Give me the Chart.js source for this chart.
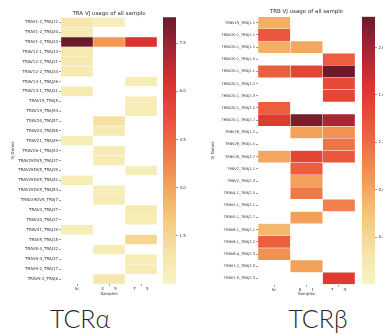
<!DOCTYPE html>
<html><head><meta charset="utf-8">
<script src="https://cdn.jsdelivr.net/npm/chart.js@4.4.1/dist/chart.umd.min.js"></script>
<style>
html,body{margin:0;padding:0;background:#fff;width:383px;height:335px;overflow:hidden;position:relative;}
.box{position:absolute;top:0;}
.big{position:absolute;font-family:"Lato","Noto Sans",sans-serif;font-weight:300;font-size:25px;line-height:25px;color:#262626;text-align:center;width:120px;}
</style></head><body>
<div class="box" style="left:0;"><canvas id="traHeat" width="160" height="300"></canvas></div>
<div class="box" style="left:160px;"><canvas id="traBar" width="30" height="300"></canvas></div>
<div class="box" style="left:190px;"><canvas id="trbHeat" width="168" height="300"></canvas></div>
<div class="box" style="left:358px;"><canvas id="trbBar" width="30" height="300"></canvas></div>
<div class="big" style="left:20px;top:306px">TCRα</div>
<div class="big" style="left:258px;top:306px">TCRβ</div>
<script>
// ---------- TRA data ----------
const traRows = ['TRAV1-2_TRAJ12','TRAV1-2_TRAJ20','TRAV1-2_TRAJ33','TRAV12-1_TRAJ13','TRAV12-2_TRAJ31','TRAV12-2_TRAJ34','TRAV13-1_TRAJ26','TRAV13-1_TRAJ31','TRAV19_TRAJ5','TRAV19_TRAJ54','TRAV20_TRAJ57','TRAV20_TRAJ58','TRAV21_TRAJ49','TRAV26-1_TRAJ53','TRAV29DV5_TRAJ37','TRAV29DV5_TRAJ39','TRAV29DV5_TRAJ42','TRAV29DV5_TRAJ53','TRAV29DV5_TRAJ7','TRAV3_TRAJ37','TRAV30_TRAJ37','TRAV41_TRAJ19','TRAV5_TRAJ15','TRAV8-4_TRAJ32','TRAV8-4_TRAJ37','TRAV9-2_TRAJ17','TRAV9-2_TRAJ6'];
const traCols = ['hc','X\u00a0\u00a0\u00a0\u00a0\u00a0\u00a0\u00a0\u00a05','F\u00a0\u00a0\u00a0\u00a0\u00a0\u00a0\u00a0\u00a05'];
const traHc = [0.85,0.55,8.31,0.6,0.6,0.6,null,0.55,null,null,null,null,0.45,null,null,null,0.45,null,null,null,null,0.45,null,null,null,null,null];
const traS2 = [0.35,null,3.3,null,null,null,null,null,null,null,1.1,0.65,null,0.5,0.5,null,null,0.45,0.5,null,null,null,null,0.5,null,null,0.8];
const traS3 = [null,null,6.2,null,null,null,0.45,null,0.45,0.5,null,null,null,null,null,0.45,null,null,null,0.6,0.5,null,1.5,null,0.5,0.5,null];
const traRange = [0, 8.31];
const traTicks = [1.5, 3.0, 4.5, 6.0, 7.5];

// ---------- TRB data ----------
const trbRows = ['TRBV19_TRBJ1-2','TRBV20-1_TRBJ1-1','TRBV20-1_TRBJ1-2','TRBV20-1_TRBJ1-5','TRBV20-1_TRBJ2-1','TRBV20-1_TRBJ2-2','TRBV20-1_TRBJ2-3','TRBV20-1_TRBJ2-5','TRBV20-1_TRBJ2-7','TRBV28_TRBJ1-2','TRBV28_TRBJ1-5','TRBV28_TRBJ2-7','TRBV2_TRBJ1-1','TRBV2_TRBJ2-3','TRBV4-1_TRBJ2-5','TRBV5-1_TRBJ2-1','TRBV5-1_TRBJ2-7','TRBV6-1_TRBJ2-1','TRBV6-1_TRBJ2-2','TRBV6-4_TRBJ2-3','TRBV7-2_TRBJ2-3','TRBV7-9_TRBJ2-3'];
const trbCols = ['hc','8\u00a0\u00a0\u00a0\u00a0\u00a0\u00a0\u00a0\u00a01','7\u00a0\u00a0\u00a0\u00a0\u00a0\u00a0\u00a0-5'];
const trbHc = [0.75,1.35,0.75,null,1.3,null,null,1.3,1.6,null,null,0.8,null,null,null,null,null,0.68,1.3,0.95,null,null];
const trbS2 = [null,null,0.8,null,1.5,null,null,null,2.2,0.85,null,1.5,1.3,0.85,1.1,null,0.85,null,null,null,0.85,null];
const trbS3 = [null,null,null,1.3,2.26,1.45,1.5,null,1.95,0.95,1.15,1.35,null,null,null,1.05,null,null,null,null,null,1.6];
const trbRange = [0, 2.26];
const trbTicks = [0.4, 0.8, 1.2, 1.6, 2.0];

// ---------- colour map ----------
const cmapStops = [
  [0.00,[247,244,198]],[0.12,[246,228,166]],[0.25,[245,199,124]],[0.37,[243,162,90]],
  [0.50,[238,118,70]],[0.62,[233,80,58]],[0.75,[217,51,47]],[0.87,[168,37,53]],[1.00,[107,27,43]]
];
function cmap(t){
  t = Math.max(0, Math.min(1, t));
  for (let i=1;i<cmapStops.length;i++){
    const [t1,c1] = cmapStops[i], [t0,c0] = cmapStops[i-1];
    if (t <= t1){
      const f = (t - t0)/(t1 - t0);
      const c = c0.map((v,k)=>Math.round(v + (c1[k]-v)*f));
      return `rgb(${c[0]},${c[1]},${c[2]})`;
    }
  }
  return 'rgb(107,27,43)';
}

const FONT = 'DejaVu Sans';
const TXT = '#333';

function heat(id, rows, cols, series, range, title, o){
  const datasets = series.map((vals, j) => ({
    label: cols[j],
    data: vals.map(v => v == null ? null : [j, j+1]),
    backgroundColor: vals.map(v => v == null ? 'rgba(0,0,0,0)' : cmap((v - range[0])/(range[1]-range[0]))),
    borderColor: 'rgba(255,255,255,0.6)', borderWidth: 0.5, borderSkipped: false,
    barPercentage: 1, categoryPercentage: 1, grouped: false
  }));
  new Chart(document.getElementById(id), {
    type: 'bar',
    data: { labels: rows, datasets },
    options: {
      indexAxis: 'y', responsive: false, animation: false, devicePixelRatio: 1,
      layout: { padding: { left: 0, right: o.padRight, top: 0, bottom: 0 } },
      plugins: {
        legend: { display: false }, tooltip: { enabled: false },
        title: { display: true, text: title, fullSize: false, color: TXT,
          font: { family: FONT, size: 5.5, weight: 'normal' }, padding: { top: o.titleTop, bottom: o.titleBottom } }
      },
      scales: {
        x: {
          type: 'linear', min: 0, max: cols.length, border: { display: false },
          grid: { display: true, drawOnChartArea: false, drawTicks: true, tickLength: 2, tickWidth: 0.6, color: '#555' },
          afterBuildTicks: s => { s.ticks = cols.map((c, j) => ({ value: j + 0.5 })); },
          ticks: { autoSkip: false, maxRotation: 0, padding: 1, color: TXT, font: { family: FONT, size: 4 },
            callback: (v, i) => cols[i] },
          title: { display: true, text: 'Samples', color: TXT, font: { family: FONT, size: 4 }, padding: { top: 0, bottom: o.xTitleBottom } },
          afterFit: s => { s.height = o.xHeight; }
        },
        y: {
          type: 'category', offset: true, border: { display: false },
          grid: { display: true, offset: false, drawOnChartArea: false, tickLength: 2, tickWidth: 0.6, color: '#555' },
          ticks: { autoSkip: false, padding: 1, color: TXT, font: { family: FONT, size: o.yFont } },
          title: { display: true, text: 'VJ Genes', color: TXT, font: { family: FONT, size: 4 }, padding: { top: o.yTitlePad, bottom: 0 } },
          afterFit: s => { s.width = o.yWidth; }
        }
      }
    }
  });
}

function cbar(id, range, ticks, o){
  new Chart(document.getElementById(id), {
    type: 'bar',
    data: { labels: ['v'], datasets: [{
      data: [[range[0], range[1]]],
      backgroundColor: ctx => {
        const ch = ctx.chart, y = ch.scales.y;
        if (!ch.chartArea || !y) return 'rgba(0,0,0,0)';
        const g = ch.ctx.createLinearGradient(0, y.getPixelForValue(range[0]), 0, y.getPixelForValue(range[1]));
        for (let k = 0; k <= 40; k++) g.addColorStop(k/40, cmap(k/40));
        return g;
      },
      borderWidth: 0, barPercentage: 1, categoryPercentage: 1
    }]},
    options: {
      responsive: false, animation: false, devicePixelRatio: 1,
      layout: { padding: { left: o.left, right: 0, top: o.top, bottom: o.bottom } },
      plugins: { legend: { display: false }, tooltip: { enabled: false } },
      scales: {
        x: { display: false },
        y: { position: 'right', min: range[0], max: range[1], border: { display: false },
          grid: { display: true, drawOnChartArea: false, tickLength: 2, tickWidth: 0.6, color: '#555' },
          afterBuildTicks: s => { s.ticks = ticks.map(v => ({ value: v })); },
          ticks: { padding: 1.5, color: TXT, font: { family: FONT, size: 4 }, callback: v => Number(v).toFixed(1) },
          afterFit: s => { s.width = o.width; }
        }
      }
    }
  });
}

heat('traHeat', traRows, traCols, [traHc, traS2, traS3], traRange, 'TRA VJ usage of all sample',
  { padRight: 3, titleTop: 10, titleBottom: 0.7, xHeight: 16, xTitleBottom: 3.9, yFont: 4, yTitlePad: 10.6, yWidth: 61 });
cbar('traBar', traRange, traTicks, { left: 3, top: 17.3, bottom: 16, width: 14 });

heat('trbHeat', trbRows, trbCols, [trbHc, trbS2, trbS3], trbRange, 'TRB VJ usage of all sample',
  { padRight: 3, titleTop: 8.5, titleBottom: 1.6, xHeight: 15.5, xTitleBottom: 3.6, yFont: 3.6, yTitlePad: 20.6, yWidth: 68 });
cbar('trbBar', trbRange, trbTicks, { left: 4, top: 16.7, bottom: 15.5, width: 13 });
</script>
</body></html>
